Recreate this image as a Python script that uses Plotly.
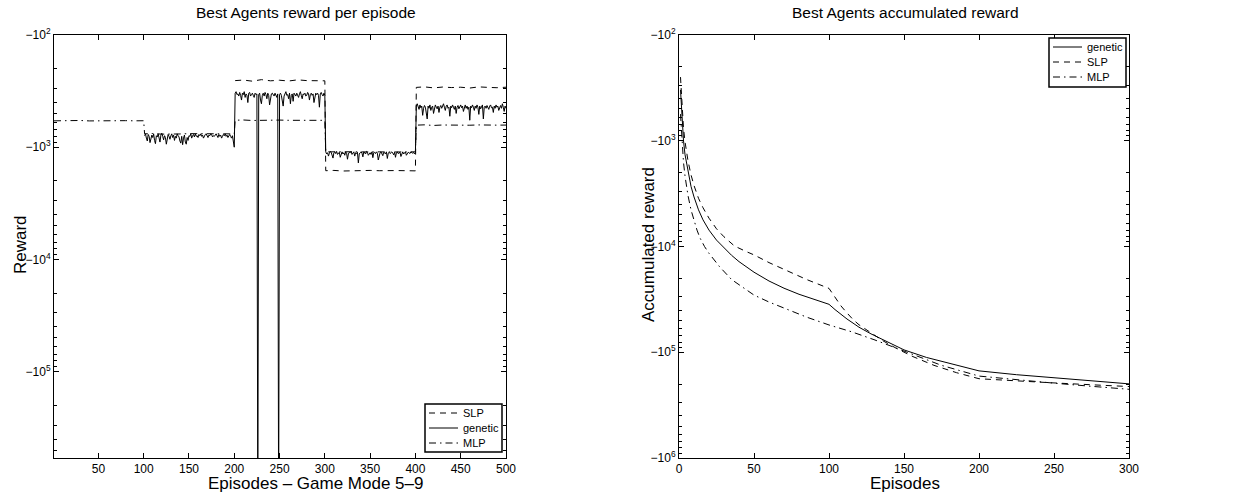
import plotly.graph_objects as go

# ---------------- per-episode rewards (Game Mode 5-9) ----------------
genetic_mode6 = [-790, -760, -830, -880, -770, -800, -910, -850, -780, -820,
                 -760, -870, -930, -790, -810, -760, -840, -900, -780, -750,
                 -800, -860, -790, -820, -940, -810, -770, -800, -850, -790,
                 -760, -820, -780, -870, -800, -830, -760, -790, -810, -880,
                 -920, -800, -950, -830, -780, -900, -940, -820, -870, -790,
                 -800, -760, -830, -790, -770, -810, -760, -800, -790, -820,
                 -770, -790, -760, -800, -780, -830, -790, -770, -760, -800,
                 -820, -780, -790, -760, -770, -810, -790, -800, -780, -760,
                 -790, -820, -770, -800, -780, -830, -800, -770, -790, -760,
                 -800, -780, -820, -790, -770, -800, -830, -790, -880, -1000]
genetic_mode7 = [-330, -320, -340, -335, -350, -325, -345, -380, -330, -340,
                 -320, -360, -335, -345, -400, -330, -325, -350, -340, -330,
                 -345, -360, -330, -340, -335, -2000000, -340, -330, -380, -410,
                 -345, -330, -350, -325, -340, -370, -330, -345, -420, -360,
                 -335, -330, -345, -350, -330, -340, -360, -335, -2000000, -340,
                 -330, -345, -380, -430, -350, -335, -320, -345, -340, -370,
                 -330, -410, -345, -335, -390, -330, -340, -350, -330, -345,
                 -360, -335, -320, -345, -370, -335, -340, -330, -350, -345,
                 -325, -335, -380, -340, -330, -345, -335, -400, -350, -330,
                 -340, -330, -345, -440, -335, -325, -340, -350, -330, -345]
genetic_mode8 = [-1100, -1150, -1120, -1200, -1130, -1090, -1110, -1180, -1250, -1120,
                 -1100, -1140, -1090, -1160, -1120, -1110, -1230, -1130, -1100, -1150,
                 -1120, -1180, -1100, -1130, -1280, -1150, -1110, -1120, -1090, -1160,
                 -1130, -1100, -1200, -1120, -1140, -1110, -1380, -1150, -1120, -1100,
                 -1130, -1220, -1100, -1120, -1150, -1090, -1110, -1180, -1130, -1120,
                 -1160, -1100, -1240, -1120, -1110, -1140, -1100, -1130, -1300, -1150,
                 -1120, -1100, -1130, -1190, -1110, -1120, -1150, -1100, -1260, -1130,
                 -1110, -1140, -1120, -1100, -1130, -1170, -1110, -1230, -1120, -1100,
                 -1140, -1120, -1110, -1210, -1130, -1100, -1150, -1120, -1100, -1180,
                 -1130, -1110, -1120, -1140, -1100, -1120, -1130, -1110, -1150, -1120]
genetic_mode9 = [-430, -410, -440, -460, -420, -445, -430, -520, -450, -425,
                 -440, -480, -560, -430, -450, -420, -470, -440, -430, -500,
                 -445, -420, -440, -455, -430, -490, -440, -425, -450, -430,
                 -410, -440, -470, -430, -420, -450, -440, -530, -430, -445,
                 -420, -440, -460, -430, -500, -440, -425, -455, -430, -420,
                 -445, -430, -480, -440, -420, -450, -430, -460, -440, -575,
                 -430, -445, -420, -440, -470, -430, -450, -420, -440, -510,
                 -430, -455, -440, -420, -560, -440, -430, -450, -425, -440,
                 -460, -430, -420, -445, -440, -490, -430, -450, -420, -440,
                 -430, -470, -440, -425, -450, -410, -440, -480, -430, -450]
genetic_episodes = list(range(101, 501))
genetic_reward = genetic_mode6 + genetic_mode7 + genetic_mode8 + genetic_mode9

slp_episodes = [201, 210, 220, 230, 240, 250, 260, 270, 280, 290, 300,
                301, 310, 320, 330, 340, 350, 360, 370, 380, 390, 400,
                401, 410, 420, 430, 440, 450, 460, 470, 480, 490, 500]
slp_reward = [-255, -252, -258, -250, -256, -253, -257, -251, -255, -254, -256,
              -1620, -1610, -1630, -1615, -1625, -1610, -1620, -1630, -1615, -1620, -1625,
              -293, -290, -296, -291, -294, -292, -297, -290, -293, -295, -292]

mlp_episodes = [1, 10, 20, 30, 40, 50, 60, 70, 80, 90, 100,
                101, 110, 120, 130, 140, 150, 160, 170, 180, 190, 200,
                201, 210, 220, 230, 240, 250, 260, 270, 280, 290, 300,
                301, 310, 320, 330, 340, 350, 360, 370, 380, 390, 400,
                401, 410, 420, 430, 440, 450, 460, 470, 480, 490, 500]
mlp_reward = [-582, -580, -585, -578, -583, -581, -579, -584, -580, -582, -581,
              -760, -755, -765, -758, -762, -757, -760, -763, -756, -760, -761,
              -575, -572, -578, -574, -577, -573, -576, -574, -578, -575, -576,
              -1100, -1095, -1105, -1098, -1102, -1096, -1100, -1104, -1097, -1101, -1100,
              -636, -632, -640, -634, -638, -635, -637, -633, -639, -636, -635]

# ---------------- accumulated reward ----------------
acc_gen_ep = [1, 2, 3, 4, 6, 8, 10, 13, 16, 20, 25, 30, 35, 40, 50, 60, 70, 80, 90, 100,
              104, 108, 112, 116, 120, 128, 136, 145, 150, 165, 183, 200, 225, 250, 275, 300]
acc_gen = [-330, -650, -1000, -1350, -2000, -2700, -3400, -4500, -5600, -7000, -8700, -10300,
           -12100, -13900, -17500, -21200, -24800, -28300, -31800, -35200,
           -39500, -44000, -48500, -53000, -58000, -67000, -76500, -88000, -95000,
           -112000, -130000, -150000, -163000, -175000, -187000, -199000]

acc_slp_ep = [1, 2, 3, 4, 6, 8, 10, 13, 16, 20, 25, 30, 37, 45, 50, 60, 72, 85, 100,
              104, 108, 112, 116, 120, 128, 136, 145, 156, 170, 185, 200, 225, 250, 275, 300]
acc_slp = [-250, -500, -760, -1020, -1550, -2100, -2650, -3500, -4300, -5400, -6800, -8100,
           -9900, -11200, -12000, -14200, -16900, -20500, -24900,
           -30500, -36500, -42500, -49000, -55000, -66000, -78000, -92000, -110000,
           -133000, -156000, -178000, -187000, -195000, -203000, -211000]

acc_mlp_ep = [1, 2, 3, 4, 6, 8, 10, 12, 14, 17, 20, 27, 35, 50, 60, 72, 85, 100,
              115, 130, 150, 175, 200, 225, 250, 275, 300]
acc_mlp = [-560, -1050, -1600, -2150, -3300, -4500, -5700, -7000, -8300, -10000, -11600,
           -15500, -20500, -28800, -33500, -39000, -46500, -55200,
           -64000, -76000, -98000, -133000, -168000, -182000, -196000, -210000, -224000]

left_xticks = [50, 100, 150, 200, 250, 300, 350, 400, 450, 500]
right_xticks = [0, 50, 100, 150, 200, 250, 300]
left_decades = [2, 3, 4, 5]
right_decades = [2, 3, 4, 5, 6]

SOLID = "solid"
DASH = "6px,5px"
DASHDOT = "7px,4px,1.5px,4px"
FONT = "Liberation Sans, Arial, Helvetica, sans-serif"
W, H = 1242, 494


def mag(values):
    # rewards are negative; the log axis shows their magnitude with a minus sign
    return [-v for v in values]


def px(x):
    return x / W


def py(y):
    return 1 - y / H


fig = go.Figure()

# left panel: reward per episode
left_series = [("SLP", slp_episodes, slp_reward, DASH),
               ("genetic", genetic_episodes, genetic_reward, SOLID),
               ("MLP", mlp_episodes, mlp_reward, DASHDOT)]
for name, xs, ys, dash in left_series:
    fig.add_trace(go.Scatter(x=xs, y=mag(ys), name=name, mode="lines",
                             line=dict(color="black", width=1, dash=dash),
                             xaxis="x", yaxis="y", showlegend=False))

# right panel: accumulated reward
right_series = [("genetic", acc_gen_ep, acc_gen, SOLID),
                ("SLP", acc_slp_ep, acc_slp, DASH),
                ("MLP", acc_mlp_ep, acc_mlp, DASHDOT)]
for name, xs, ys, dash in right_series:
    fig.add_trace(go.Scatter(x=xs, y=mag(ys), name=name, mode="lines",
                             line=dict(color="black", width=1, dash=dash),
                             xaxis="x2", yaxis="y2", showlegend=False))


def minor_vals(decades):
    vals = []
    for d in decades:
        for k in range(2, 10):
            vals.append(k * 10 ** d)
    return vals


common_axis = dict(showline=True, linecolor="black", linewidth=1, mirror="ticks",
                   ticks="inside", ticklen=5, tickcolor="black", tickwidth=1,
                   showgrid=False, zeroline=False, automargin=False,
                   tickfont=dict(family=FONT, size=12, color="black"))

ylog_left = dict(common_axis, type="log", range=[5.77, 2],
                 tickmode="array", tickvals=[10 ** d for d in left_decades],
                 ticktext=["\u221210<sup>%d</sup>" % d for d in left_decades],
                 minor=dict(tickmode="array", tickvals=minor_vals(left_decades),
                            ticks="inside", ticklen=3, tickcolor="black", showgrid=False))
ylog_right = dict(common_axis, type="log", range=[6, 2],
                  tickmode="array", tickvals=[10 ** d for d in right_decades],
                  ticktext=["\u221210<sup>%d</sup>" % d for d in right_decades],
                  minor=dict(tickmode="array", tickvals=minor_vals(right_decades[:-1]),
                             ticks="inside", ticklen=3, tickcolor="black", showgrid=False))

ydom = [py(458), py(35)]
fig.update_layout(
    width=W, height=H,
    margin=dict(l=0, r=0, t=0, b=0),
    paper_bgcolor="white", plot_bgcolor="white",
    font=dict(family=FONT, color="black"),
    xaxis=dict(common_axis, domain=[px(54), px(506)], range=[1, 500],
               tickmode="array", tickvals=left_xticks),
    yaxis=dict(ylog_left, domain=ydom),
    xaxis2=dict(common_axis, domain=[px(679), px(1129)], range=[0, 300],
                tickmode="array", tickvals=right_xticks, anchor="y2"),
    yaxis2=dict(ylog_right, domain=ydom, anchor="x2"),
    showlegend=False,
)


# boxed legends in the MATLAB style: short line sample followed by the series name
def add_legend(box, series):
    x0, y0, x1, y1 = box
    fig.add_shape(type="rect", xref="paper", yref="paper",
                  x0=px(x0), x1=px(x1), y0=py(y0), y1=py(y1),
                  line=dict(color="black", width=1.5), fillcolor="white", layer="above")
    for i, (name, _, _, dash) in enumerate(series):
        yy = y0 + 9 + 15 * i
        fig.add_shape(type="line", xref="paper", yref="paper",
                      x0=px(x0 + 4), x1=px(x0 + 33), y0=py(yy), y1=py(yy),
                      line=dict(color="black", width=1, dash=dash), layer="above")
        fig.add_annotation(text=name, x=px(x0 + 36), y=py(yy), xref="paper", yref="paper",
                           xanchor="left", yanchor="middle", showarrow=False,
                           font=dict(family=FONT, size=11, color="black"))


add_legend((425, 404, 502, 452), left_series)
add_legend((1049, 38, 1126, 87), right_series)

labels = [
    dict(text="Best Agents reward per episode", x=306, y=12, size=15.5, angle=0),
    dict(text="Best Agents accumulated reward", x=905, y=12, size=15.5, angle=0),
    dict(text="Episodes \u2013 Game Mode 5\u20139", x=315, y=483, size=17, angle=0),
    dict(text="Episodes", x=905, y=483, size=17, angle=0),
    dict(text="Reward", x=20, y=245, size=17, angle=-90),
    dict(text="Accumulated reward", x=648, y=245, size=17, angle=-90),
]
for lab in labels:
    fig.add_annotation(text=lab["text"], x=px(lab["x"]), y=py(lab["y"]),
                       xref="paper", yref="paper",
                       xanchor="center", yanchor="middle", showarrow=False,
                       textangle=lab["angle"],
                       font=dict(family=FONT, size=lab["size"], color="black"))

fig.write_html("out.html")
